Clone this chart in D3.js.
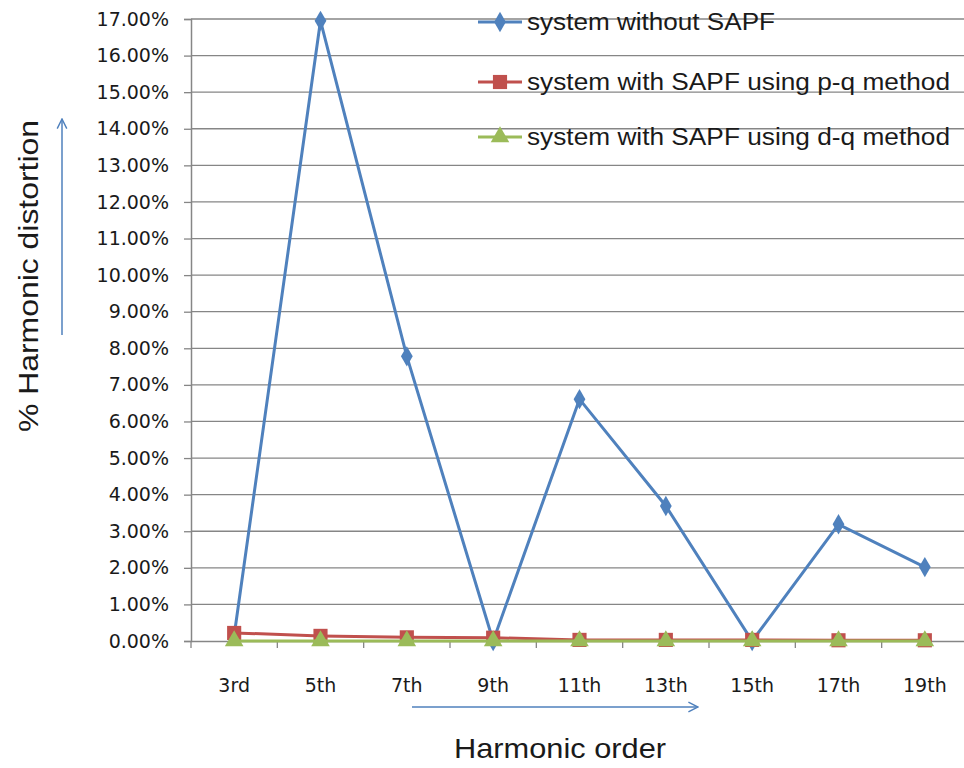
<!DOCTYPE html>
<html>
<head>
<meta charset="utf-8">
<script src="https://cdn.jsdelivr.net/npm/d3@7"></script>
<style>
  body { margin: 0; background: #fff; }
  text { font-family: "Liberation Sans", "DejaVu Sans", sans-serif; fill: #1a1a1a; }
</style>
</head>
<body>
<div id="chart"></div>
<script>
var categories = ["3rd", "5th", "7th", "9th", "11th", "13th", "15th", "17th", "19th"];
var withoutSapf = [0.15, 16.95, 7.78, 0.0, 6.61, 3.69, 0.0, 3.19, 2.02];
var pqMethod    = [0.22, 0.14, 0.10, 0.09, 0.03, 0.03, 0.03, 0.02, 0.02];
var dqMethod    = [0.0, 0.0, 0.0, 0.0, 0.0, 0.0, 0.0, 0.0, 0.0];
var seriesNames = ["system without SAPF", "system with SAPF using p-q method", "system with SAPF using d-q method"];
var yTicks = d3.range(0, 18, 1);

var width = 964, height = 768;
var margin = {left: 191, right: 0, top: 19, bottom: 127};

var svg = d3.select("#chart").append("svg")
    .attr("width", width)
    .attr("height", height);

var x = d3.scaleBand()
    .domain(categories)
    .range([margin.left, 968]);

var y = d3.scaleLinear()
    .domain([0, 17])
    .range([height - margin.bottom, margin.top]);

// gridlines
svg.append("g").selectAll("line")
    .data(yTicks.slice(1))
    .enter()
    .append("line")
    .attr("x1", margin.left)
    .attr("x2", 968)
    .attr("y1", function(d) { return y(d); })
    .attr("y2", function(d) { return y(d); })
    .style("stroke", "#868686")
    .style("stroke-width", 1.3);

// y axis
var yAxis = d3.axisLeft(y)
    .tickValues(yTicks)
    .tickSize(7)
    .tickFormat(function(d) { return d.toFixed(2) + "%"; });
var gy = svg.append("g")
    .attr("transform", "translate(" + margin.left + ",0)")
    .call(yAxis);
gy.select(".domain").style("stroke", "#868686").style("stroke-width", 1.5);
gy.selectAll(".tick line").style("stroke", "#868686").style("stroke-width", 1.3);
gy.selectAll(".tick text")
    .attr("x", -22)
    .style("font-family", "'DejaVu Sans', sans-serif")
    .style("font-size", "19px")
    .style("fill", "#1a1a1a");

// x axis
var xAxis = d3.axisBottom(x).tickSize(0).tickSizeOuter(0);
var gx = svg.append("g")
    .attr("transform", "translate(0," + y(0) + ")")
    .call(xAxis);
gx.select(".domain").style("stroke", "#868686").style("stroke-width", 1.5);
gx.selectAll(".tick text")
    .attr("dy", 0)
    .attr("y", 51)
    .style("font-family", "'DejaVu Sans', sans-serif")
    .style("font-size", "19px")
    .style("fill", "#1a1a1a");
// category boundary ticks
gx.selectAll("line.bound")
    .data(categories.concat(["end"]))
    .enter()
    .append("line")
    .attr("class", "bound")
    .attr("x1", function(d, i) { return margin.left + i * x.step(); })
    .attr("x2", function(d, i) { return margin.left + i * x.step(); })
    .attr("y1", 0)
    .attr("y2", 7)
    .style("stroke", "#868686")
    .style("stroke-width", 1.3);

// series
var series = [
    {name: seriesNames[0], values: withoutSapf, color: "#4F81BD", shape: d3.symbolDiamond, size: 120, len: 248},
    {name: seriesNames[1], values: pqMethod, color: "#C0504D", shape: d3.symbolSquare, size: 200, len: 423},
    {name: seriesNames[2], values: dqMethod, color: "#9BBB59", shape: d3.symbolTriangle, size: 150, len: 423}
];

var cx = function(i) { return x(categories[i]) + x.bandwidth() / 2; };
var line = d3.line()
    .x(function(d, i) { return cx(i); })
    .y(function(d) { return y(d); });

series.forEach(function(s) {
    svg.append("path")
        .datum(s.values)
        .attr("d", line)
        .style("fill", "none")
        .style("stroke", s.color)
        .style("stroke-width", 3);
    svg.append("g").selectAll("path")
        .data(s.values)
        .enter()
        .append("path")
        .attr("transform", function(d, i) { return "translate(" + cx(i) + "," + y(d) + ")"; })
        .attr("d", d3.symbol().type(s.shape).size(s.size))
        .style("fill", s.color);
});

// legend
var legendY = [22, 82, 137];
var legend = svg.append("g");
series.forEach(function(s, i) {
    var g = legend.append("g").attr("transform", "translate(478," + legendY[i] + ")");
    g.append("line").attr("x1", 0).attr("x2", 44).attr("y1", 0).attr("y2", 0)
        .style("stroke", s.color).style("stroke-width", 3);
    g.append("path").attr("transform", "translate(22,0)")
        .attr("d", d3.symbol().type(s.shape).size(s.size))
        .style("fill", s.color);
    g.append("text").attr("x", 49).attr("y", 8)
        .style("font-size", "23px")
        .attr("textLength", s.len)
        .attr("lengthAdjust", "spacingAndGlyphs")
        .text(s.name);
});

// axis titles and arrows
svg.append("defs").append("marker")
    .attr("id", "arrow")
    .attr("viewBox", "0 0 10 10")
    .attr("refX", 9).attr("refY", 5)
    .attr("markerWidth", 8).attr("markerHeight", 8)
    .attr("orient", "auto")
    .append("path")
    .attr("d", "M1,1 L9,5 L1,9")
    .style("fill", "none")
    .style("stroke", "#4F81BD")
    .style("stroke-width", 1.2);

svg.append("text")
    .attr("transform", "translate(38,276) rotate(-90)")
    .attr("text-anchor", "middle")
    .style("font-size", "28px")
    .attr("textLength", 312)
    .attr("lengthAdjust", "spacingAndGlyphs")
    .text("% Harmonic distortion");
svg.append("line")
    .attr("x1", 62).attr("x2", 62).attr("y1", 335).attr("y2", 119)
    .style("stroke", "#4F81BD").style("stroke-width", 1.5)
    .attr("marker-end", "url(#arrow)");

svg.append("text")
    .attr("x", 560).attr("y", 758)
    .attr("text-anchor", "middle")
    .style("font-size", "28px")
    .attr("textLength", 212)
    .attr("lengthAdjust", "spacingAndGlyphs")
    .text("Harmonic order");
svg.append("line")
    .attr("x1", 412).attr("x2", 698).attr("y1", 707).attr("y2", 707)
    .style("stroke", "#4F81BD").style("stroke-width", 1.5)
    .attr("marker-end", "url(#arrow)");
</script>
</body>
</html>
